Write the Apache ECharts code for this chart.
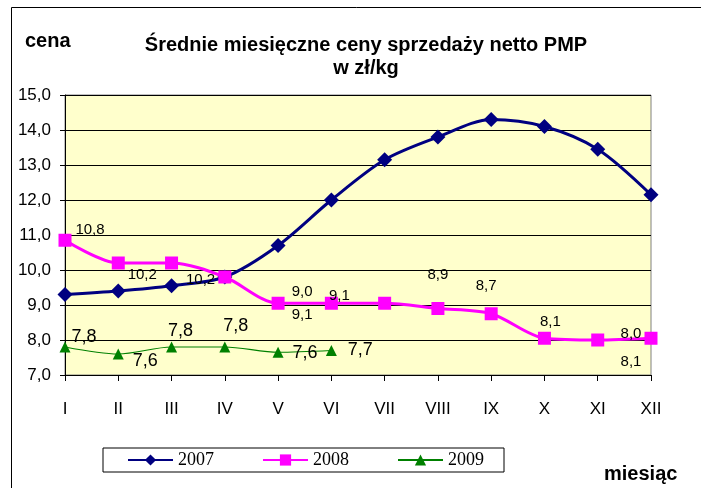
<!DOCTYPE html>
<html>
<head>
<meta charset="utf-8">
<script src="https://cdn.jsdelivr.net/npm/echarts@6/dist/echarts.min.js"></script>
<style>html,body{margin:0;padding:0;background:#fff;}#c{width:701px;height:488px;}</style>
</head>
<body>
<div id="c"></div>
<script>
var months = ['I','II','III','IV','V','VI','VII','VIII','IX','X','XI','XII'];
var y2007 = [9.3, 9.4, 9.55, 9.8, 10.7, 12.0, 13.15, 13.8, 14.3, 14.1, 13.45, 12.15];
var y2008 = [10.85, 10.2, 10.2, 9.8, 9.05, 9.05, 9.05, 8.9, 8.75, 8.05, 8.0, 8.05];
var y2009 = [7.8, 7.6, 7.8, 7.8, 7.65, 7.7];
var labels2008 = ['10,8','10,2','10,2','','9,0\n9,1','9,1','','8,9','8,7','8,1','','8,0\n8,1'];
var labels2009 = ['7,8','7,6','7,8','7,8','7,6','7,7'];
var seriesNames = ['2007','2008','2009'];
var yTicks = [7,8,9,10,11,12,13,14,15];

// label placement (style only)
var off2008 = [[25,-10],[24,12],[29,17],[0,0],[24,0],[8,-7],[0,0],[0,-34],[-5,-28],[6,-16],[0,0],[-20,10]];
var lh2008 = [16,16,16,16,23,16,16,16,16,16,16,28];
var off2009 = [[19,-10],[27,7],[9,-16],[11,-21],[27,1],[29,0]];

var chart = echarts.init(document.getElementById('c'), null, {renderer:'canvas'});
var sans = 'Liberation Sans, Arial, sans-serif';

function d2008(){
  return y2008.map(function(v,i){
    return {value:v, label:{show: labels2008[i] !== '', formatter: labels2008[i], offset: off2008[i], lineHeight: lh2008[i]}};
  });
}
function d2009(){
  return y2009.map(function(v,i){
    return {value:v, label:{show:true, formatter: labels2009[i], offset: off2009[i]}};
  });
}

chart.setOption({
  animation:false,
  backgroundColor:'#fff',
  title:{
    text:'Średnie miesięczne ceny sprzedaży netto PMP\nw zł/kg',
    left:361, top:29, textAlign:'center',
    textStyle:{fontFamily:sans, fontWeight:'bold', fontSize:20, lineHeight:23, color:'#000'}
  },
  graphic:[
    {type:'rect', shape:{x:11.5,y:7.5,width:900,height:700}, style:{fill:null, stroke:'#000', lineWidth:1}, silent:true, z:-1},
    {type:'text', left:25, top:31, style:{text:'cena', font:'bold 20px Liberation Sans, Arial, sans-serif', fill:'#000'}},
    {type:'text', left:604, top:464, style:{text:'miesiąc', font:'bold 20px Liberation Sans, Arial, sans-serif', fill:'#000'}}
  ],
  legend:{
    data: seriesNames,
    left:103, top:448,
    padding:[3,20,3,24],
    itemGap:48,
    itemWidth:45, itemHeight:14,
    borderColor:'#000', borderWidth:1,
    textStyle:{fontFamily:'Liberation Serif, Times New Roman, serif', fontSize:18, color:'#000'}
  },
  grid:{left:65, right:50, top:95, bottom:113, show:true, backgroundColor:'#FFFFCC', borderColor:'#808080', borderWidth:1},
  xAxis:{
    type:'category', data:months, boundaryGap:false,
    axisLine:{lineStyle:{color:'#000', width:1}},
    axisTick:{show:true, interval:0, length:6, lineStyle:{color:'#000'}},
    axisLabel:{interval:0, margin:26, fontFamily:sans, fontSize:17, color:'#000'},
    splitLine:{show:false}
  },
  yAxis:{
    type:'value', min:yTicks[0], max:yTicks[yTicks.length-1], interval:1,
    axisLine:{show:true, lineStyle:{color:'#000', width:1}},
    axisTick:{show:true, length:5, lineStyle:{color:'#000'}},
    axisLabel:{margin:14, fontFamily:sans, fontSize:17, color:'#000', formatter:function(v){return v.toFixed(1).replace('.',',');}},
    splitLine:{show:true, lineStyle:{color:'#000', width:1}}
  },
  series:[
    {name:seriesNames[0], type:'line', data:y2007, smooth:0.3, symbol:'diamond', symbolSize:15,
      itemStyle:{color:'#000080'}, lineStyle:{color:'#000080', width:3}, z:3},
    {name:seriesNames[1], type:'line', data:d2008(), smooth:0.3, symbol:'rect', symbolSize:13,
      itemStyle:{color:'#FF00FF'}, lineStyle:{color:'#FF00FF', width:3}, z:4,
      label:{position:'inside', align:'center', verticalAlign:'middle', fontFamily:sans, fontSize:15, color:'#000'}},
    {name:seriesNames[2], type:'line', data:d2009(), smooth:0.3, symbol:'triangle', symbolSize:11,
      itemStyle:{color:'#008000'}, lineStyle:{color:'#008000', width:1.2}, z:5,
      label:{position:'inside', align:'center', verticalAlign:'middle', fontFamily:sans, fontSize:18, color:'#000'}}
  ]
});
</script>
</body>
</html>
